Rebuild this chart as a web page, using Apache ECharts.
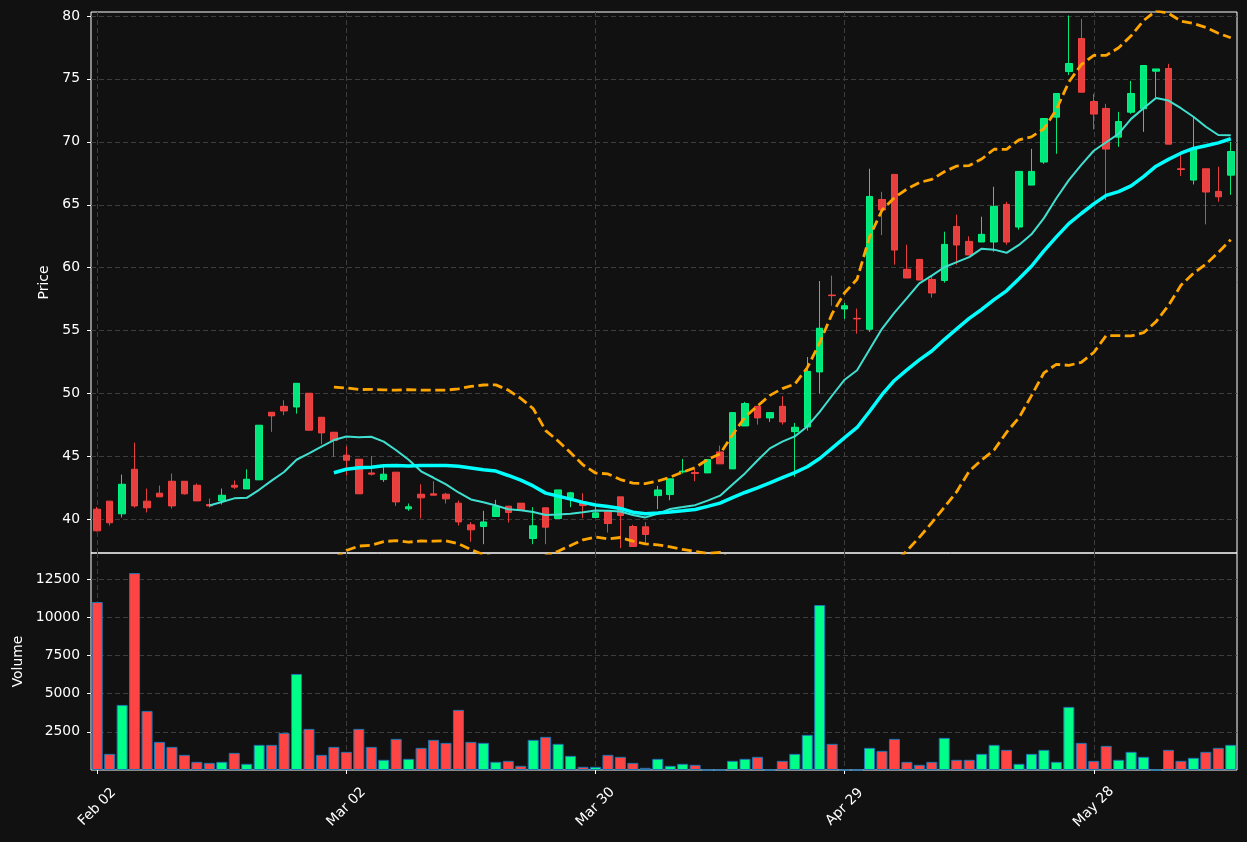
<!DOCTYPE html>
<html><head><meta charset="utf-8">
<script src="https://cdn.jsdelivr.net/npm/echarts@6/dist/echarts.min.js"></script>
<style>html,body{margin:0;padding:0;background:#111111;}#c{width:1247px;height:842px;}</style>
</head><body><div id="c"></div>
<script>
const dates = [
'2026-02-02','2026-02-03','2026-02-04','2026-02-05','2026-02-06','2026-02-09','2026-02-10','2026-02-11','2026-02-12','2026-02-13',
'2026-02-16','2026-02-17','2026-02-18','2026-02-19','2026-02-20','2026-02-23','2026-02-24','2026-02-25','2026-02-26','2026-02-27',
'2026-03-02','2026-03-03','2026-03-04','2026-03-05','2026-03-06','2026-03-09','2026-03-10','2026-03-11','2026-03-12','2026-03-13',
'2026-03-16','2026-03-17','2026-03-18','2026-03-19','2026-03-20','2026-03-23','2026-03-24','2026-03-25','2026-03-26','2026-03-27',
'2026-03-30','2026-03-31','2026-04-01','2026-04-02','2026-04-07','2026-04-08','2026-04-09','2026-04-10','2026-04-13','2026-04-14',
'2026-04-15','2026-04-16','2026-04-17','2026-04-20','2026-04-21','2026-04-22','2026-04-23','2026-04-24','2026-04-27','2026-04-28',
'2026-04-29','2026-04-30','2026-05-04','2026-05-05','2026-05-06','2026-05-07','2026-05-08','2026-05-11','2026-05-12','2026-05-13',
'2026-05-14','2026-05-15','2026-05-18','2026-05-19','2026-05-20','2026-05-21','2026-05-22','2026-05-25','2026-05-26','2026-05-27',
'2026-05-28','2026-05-29','2026-06-01','2026-06-02','2026-06-03','2026-06-04','2026-06-05','2026-06-08','2026-06-09','2026-06-10',
'2026-06-11','2026-06-12'];

const opens = [
40.82,41.46,40.45,43.99,41.46,42.09,43.04,43.04,42.72,41.19,
41.48,42.72,42.43,43.15,48.52,48.99,48.94,50.03,48.12,46.93,
45.11,44.79,43.70,43.17,43.76,40.85,42.01,42.04,42.01,41.30,
39.58,39.44,40.24,41.06,41.30,38.49,40.93,40.08,41.75,41.38,
40.16,40.63,41.80,39.44,39.42,41.90,41.98,43.78,43.73,43.70,
45.37,44.02,47.43,48.99,48.07,48.99,46.98,47.35,51.72,57.83,
56.72,55.98,55.11,65.42,67.41,59.87,60.66,59.07,58.99,63.28,
62.09,62.04,62.04,65.03,63.23,66.56,68.39,71.96,75.58,78.20,
73.20,72.65,70.37,72.35,72.62,75.61,75.82,67.86,66.96,67.86,
66.06,67.35];

const closes = [
39.10,39.74,42.80,41.08,40.93,41.80,41.08,42.04,41.48,41.08,
41.93,42.57,43.20,47.49,48.23,48.62,50.82,47.09,46.88,46.27,
44.71,42.04,43.60,43.60,41.40,41.01,41.72,41.93,41.64,39.81,
39.18,39.81,41.03,40.56,40.74,39.50,39.39,42.35,42.12,41.11,
40.53,39.68,40.32,37.86,38.81,42.35,43.23,43.84,43.65,44.76,
44.42,48.49,49.21,48.07,48.49,47.75,47.33,51.77,55.19,57.78,
56.98,55.93,65.66,64.58,61.40,59.18,59.02,57.99,61.85,61.80,
61.01,62.65,64.87,62.04,67.65,67.65,71.85,73.84,76.22,73.94,
72.20,69.42,71.61,73.84,76.06,75.79,69.81,67.80,69.44,66.01,
65.63,69.23];

const lows = [
39.05,39.52,40.16,40.95,40.56,41.80,40.87,41.98,41.48,40.95,
41.19,42.43,42.43,43.15,46.96,48.28,48.41,47.09,45.98,44.97,
43.49,42.04,43.49,42.99,41.08,40.69,40.08,41.90,41.27,39.52,
38.23,38.04,40.24,39.76,40.74,38.04,38.04,40.08,40.98,40.11,
40.16,38.97,37.72,37.86,38.04,40.82,41.53,43.65,43.04,43.70,
44.42,44.02,47.43,47.54,47.75,47.54,43.39,47.06,50.00,56.98,
55.93,54.76,54.90,62.59,60.24,59.18,59.02,57.62,58.81,60.24,
61.01,62.04,61.27,61.83,63.02,66.56,68.25,69.05,75.30,73.94,
70.98,65.37,69.60,72.22,70.79,73.52,69.81,67.28,66.61,63.44,
65.24,65.79];

const highs = [
41.00,41.46,43.57,46.11,42.46,42.70,43.65,43.04,42.86,41.67,
42.46,43.10,43.99,47.49,48.52,49.47,50.82,50.03,48.12,46.93,
45.82,44.79,45.03,44.23,43.76,41.27,42.80,43.04,42.12,41.51,
39.79,40.69,41.56,41.06,41.30,40.98,40.93,42.35,42.20,42.09,
41.03,40.63,41.80,39.58,39.79,42.67,43.23,44.81,43.99,44.76,
45.87,48.49,49.34,48.99,48.49,49.79,47.67,52.91,58.94,59.37,
57.20,56.75,67.86,66.03,67.41,61.83,60.66,59.39,62.86,64.21,
62.49,64.05,66.43,65.24,67.65,69.44,71.85,73.84,80.03,79.76,
73.81,73.02,72.38,74.84,76.06,75.79,76.19,69.00,71.96,67.86,
68.02,70.00];

const volumes = [
10992,1057,4259,12887,3867,1841,1514,991,534,468,
534,1122,403,1645,1645,2429,6286,2691,991,1514,
1188,2691,1514,665,2037,730,1449,1972,1776,3933,
1841,1776,534,599,272,1972,2168,1711,926,207,
207,991,861,468,142,730,272,403,338,0,
0,599,730,861,0,599,1057,2299,10796,1711,
0,0,1449,1253,2037,534,338,534,2103,665,
665,1057,1645,1318,403,1057,1318,534,4129,1776,
599,1580,665,1188,861,0,1318,599,795,1188,
1449,1645];

const priceTicks = [40,45,50,55,60,65,70,75,80];
const volumeTicks = [2500,5000,7500,10000,12500];
const MONTHS = ['Jan','Feb','Mar','Apr','May','Jun','Jul','Aug','Sep','Oct','Nov','Dec'];

function movingAvg(n){
  return closes.map(function(_, i){
    if (i < n - 1) return '-';
    let s = 0; for (let j = i - n + 1; j <= i; j++) s += closes[j];
    return +(s / n).toFixed(4);
  });
}
function bollinger(n, k, sign){
  return closes.map(function(_, i){
    if (i < n - 1) return '-';
    let s = 0; for (let j = i - n + 1; j <= i; j++) s += closes[j];
    const m = s / n;
    let v = 0; for (let j = i - n + 1; j <= i; j++) v += (closes[j] - m) * (closes[j] - m);
    const sd = Math.sqrt(v / (n - 1));
    return +(m + sign * k * sd).toFixed(4);
  });
}

const UP = '#00ff88', DOWN = '#ff4444';
const TXT = '#ffffff';
const GRIDC = '#3d3d3d';
const FONT = 'DejaVu Sans';
const every = function(i){ return i % 20 === 0; };

const candleData = opens.map(function(o, i){ return [o, closes[i], lows[i], highs[i]]; });
const volData = volumes.map(function(v, i){
  return { value: v, itemStyle: { color: closes[i] >= opens[i] ? UP : DOWN } };
});
const fmtDate = function(v){ const p = v.split('-'); return MONTHS[+p[1] - 1] + ' ' + p[2]; };

const chart = echarts.init(document.getElementById('c'), null, { renderer: 'canvas' });
chart.setOption({
  backgroundColor: '#111111',
  animation: false,
  textStyle: { fontFamily: FONT },
  grid: [
    { left: 91, right: 10, top: 12, height: 541, show: true, borderColor: '#ffffff', borderWidth: 1, backgroundColor: 'transparent' },
    { left: 91, right: 10, top: 553, height: 217, show: true, borderColor: '#ffffff', borderWidth: 1, backgroundColor: 'transparent' }
  ],
  xAxis: [
    { type: 'category', gridIndex: 0, data: dates, boundaryGap: true,
      axisLine: { show: false }, axisTick: { show: false }, axisLabel: { show: false },
      splitLine: { show: true, interval: every, alignWithLabel: true, lineStyle: { color: GRIDC, type: [5, 3], width: 1 } } },
    { type: 'category', gridIndex: 1, data: dates, boundaryGap: true,
      axisLine: { show: false },
      axisTick: { show: true, interval: every, alignWithLabel: true, length: 4, lineStyle: { color: '#ffffff', width: 1 } },
      axisLabel: { show: true, interval: every, rotate: 45, align: 'center', verticalAlign: 'middle', margin: 37,
        color: TXT, fontSize: 13.9, fontFamily: FONT, formatter: fmtDate },
      splitLine: { show: true, interval: every, alignWithLabel: true, lineStyle: { color: GRIDC, type: [5, 3], width: 1 } } }
  ],
  yAxis: [
    { type: 'value', gridIndex: 0, min: 37.34, max: 80.31, name: 'Price', nameLocation: 'middle', nameGap: 35,
      nameTextStyle: { color: TXT, fontSize: 13.9, fontFamily: FONT },
      axisLine: { show: false },
      axisTick: { show: true, length: 4, customValues: priceTicks, lineStyle: { color: '#ffffff' } },
      axisLabel: { color: TXT, fontSize: 13.9, fontFamily: FONT, margin: 11, customValues: priceTicks,
        formatter: function(v){ return String(v); } },
      splitLine: { show: true, lineStyle: { color: GRIDC, type: [5, 3], width: 1 } } },
    { type: 'value', gridIndex: 1, min: 0, max: 14200, name: 'Volume', nameLocation: 'middle', nameGap: 65,
      nameTextStyle: { color: TXT, fontSize: 13.9, fontFamily: FONT },
      axisLine: { show: false },
      axisTick: { show: true, length: 4, customValues: volumeTicks, lineStyle: { color: '#ffffff' } },
      axisLabel: { color: TXT, fontSize: 13.9, fontFamily: FONT, margin: 11, customValues: volumeTicks,
        formatter: function(v){ return String(v); } },
      splitLine: { show: true, lineStyle: { color: GRIDC, type: [5, 3], width: 1 } } }
  ],
  series: [
    { type: 'candlestick', xAxisIndex: 0, yAxisIndex: 0, data: candleData, barWidth: 7, z: 2,
      itemStyle: { color: UP, color0: DOWN, borderColor: UP, borderColor0: DOWN, borderWidth: 1, opacity: 0.9 } },
    { type: 'line', name: 'MA10', xAxisIndex: 0, yAxisIndex: 0, data: movingAvg(10), showSymbol: false, symbol: 'none', z: 3,
      lineStyle: { color: '#40e0d0', width: 2 } },
    { type: 'line', name: 'MA20', xAxisIndex: 0, yAxisIndex: 0, data: movingAvg(20), showSymbol: false, symbol: 'none', z: 3,
      lineStyle: { color: '#00ffff', width: 3.5 } },
    { type: 'line', name: 'BB Upper', xAxisIndex: 0, yAxisIndex: 0, data: bollinger(20, 2, 1), showSymbol: false, symbol: 'none', z: 4, clip: true,
      lineStyle: { color: '#ffa500', width: 2.8, type: [10, 4.5] } },
    { type: 'line', name: 'BB Lower', xAxisIndex: 0, yAxisIndex: 0, data: bollinger(20, 2, -1), showSymbol: false, symbol: 'none', z: 4, clip: true,
      lineStyle: { color: '#ffa500', width: 2.8, type: [10, 4.5] } },
    { type: 'bar', xAxisIndex: 1, yAxisIndex: 1, data: volData, barWidth: 11,
      itemStyle: { borderColor: '#1f77b4', borderWidth: 1 } }
  ]
});
</script>
</body></html>
